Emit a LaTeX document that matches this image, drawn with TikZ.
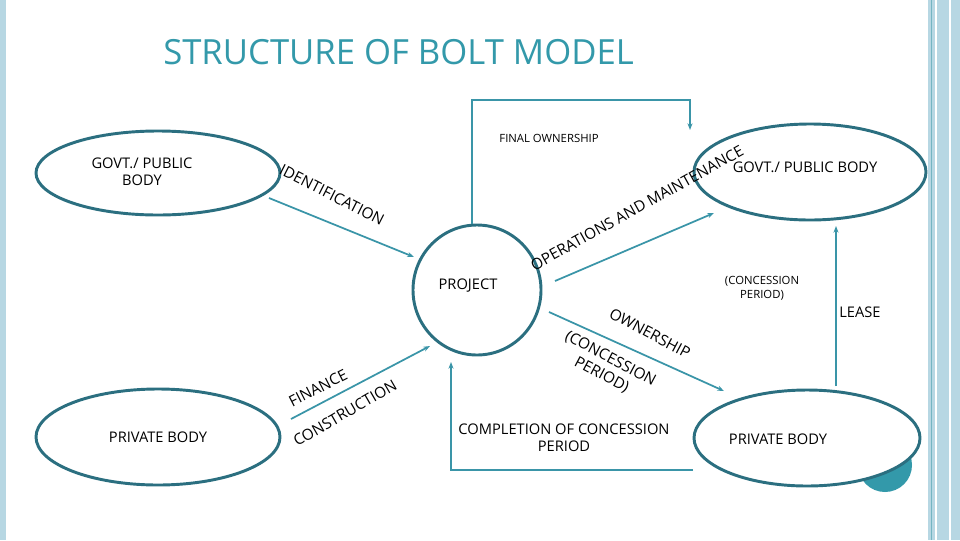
\documentclass[tikz,border=0pt]{standalone}
\usepackage{fontspec}
\setmainfont{Open Sans}
\usetikzlibrary{arrows.meta}
\begin{document}
\begin{tikzpicture}[x=0.75pt,y=-0.75pt,
  arr/.style={draw=arrc, line width=1.3pt, -{Stealth[length=5pt]}},
  lab/.style={font=\fontsize{11}{13}\selectfont, align=center, inner sep=0pt},
  rl/.style={font=\fontsize{11.5}{14}\selectfont, align=center, inner sep=0pt},
  sm/.style={font=\fontsize{8.5}{10.5}\selectfont, align=center, inner sep=0pt}]
\definecolor{arrc}{HTML}{3A95A8}
\definecolor{edge}{HTML}{2B6F80}
\definecolor{titc}{HTML}{3399AA}
\definecolor{bar}{HTML}{B7D7E3}
\useasboundingbox (0,0) rectangle (960,540);
\fill[white] (0,0) rectangle (960,540);
% side bars
\fill[bar] (0,0) rectangle (6,540);
\fill[bar] (928,0) rectangle (960,540);
\draw[white, line width=1pt] (936,0) -- (936,540) (950,0) -- (950,540);
\draw[arrc!70, line width=0.6pt] (931,0) -- (931,540);
% title
\node[font=\fontsize{26}{30}\selectfont, text=titc, anchor=west, inner sep=0pt] (title) at (163,52) {STRUCTURE OF BOLT MODEL};
% decorative dot
\fill[titc] (885,465) circle (27);
% ellipses
\draw[draw=edge, line width=2.2pt, fill=white] (158,173) ellipse (122 and 42);
\node[lab] (gov1) at (142,172) {GOVT./ PUBLIC\\BODY};
\draw[draw=edge, line width=2.2pt, fill=white] (158,437) ellipse (122 and 48);
\node[lab] (pvt1) at (158,437) {PRIVATE BODY};
\draw[draw=edge, line width=2.2pt, fill=white] (477,290) ellipse (64 and 65);
\node[lab] (proj) at (468,286) {PROJECT};
\draw[draw=edge, line width=2.2pt, fill=white] (810,172) ellipse (116 and 48);
\node[lab] (gov2) at (805,167) {GOVT./ PUBLIC BODY};
\draw[draw=edge, line width=2.2pt, fill=white] (807,438) ellipse (113 and 48);
\node[lab] (pvt2) at (778,439) {PRIVATE BODY};
% coordinates
\coordinate (a1) at (269,198); \coordinate (a2) at (414,257);
\coordinate (b1) at (555,281); \coordinate (b2) at (714,213);
\coordinate (c1) at (549,312); \coordinate (c2) at (724,391);
\coordinate (d1) at (291,419); \coordinate (d2) at (430,346);
\coordinate (e1) at (836,386); \coordinate (e2) at (836,226);
\coordinate (f1) at (693,470); \coordinate (f2) at (451,470); \coordinate (f3) at (451,362);
\coordinate (g1) at (472,224); \coordinate (g2) at (472,100); \coordinate (g3) at (690,100); \coordinate (g4) at (690,130);
\draw[arr] (a1) -- (a2);
\draw[arr] (b1) -- (b2);
\draw[arr] (c1) -- (c2);
\draw[arr] (d1) -- (d2);
\draw[arr] (e1) -- (e2);
\draw[arr] (f1) -- (f2) -- (f3);
\draw[arr] (g1) -- (g2) -- (g3) -- (g4);
% labels
\node[sm] (lfin) at (549,138) {FINAL OWNERSHIP};
\node[rl, rotate=-27] (lid) at (332,195) {IDENTIFICATION};
\node[rl, rotate=29] (lop) at (637,208) {OPERATIONS AND MAINTENANCE};
\node[sm] (lcp) at (762,288) {(CONCESSION\\PERIOD)};
\node[lab] (lls) at (860,312) {LEASE};
\node[rl, rotate=-28] (low) at (650,333) {OWNERSHIP};
\node[rl, rotate=-28] (lcp2) at (606,367) {(CONCESSION\\PERIOD)};
\node[rl, rotate=27] (lfn) at (318,388) {FINANCE};
\node[rl, rotate=30] (lcn) at (345,413) {CONSTRUCTION};
\node[lab] (lco) at (564,438) {COMPLETION OF CONCESSION\\PERIOD};
\end{tikzpicture}
\end{document}
